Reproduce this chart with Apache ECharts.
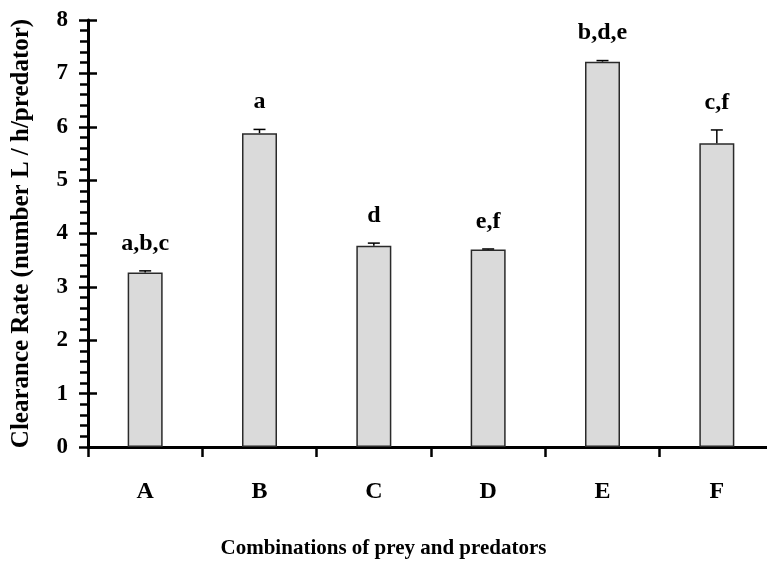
<!DOCTYPE html>
<html>
<head>
<meta charset="utf-8">
<script src="https://cdn.jsdelivr.net/npm/echarts@6/dist/echarts.min.js"></script>
<style>html,body{margin:0;padding:0;background:#fff}#c{width:767px;height:565px}</style>
</head>
<body>
<div id="c"></div>
<script>
var categories = ['A', 'B', 'C', 'D', 'E', 'F'];
var means = [3.27, 5.88, 3.77, 3.70, 7.22, 5.69];
var errors = [0.03, 0.07, 0.05, 0.01, 0.02, 0.25];
var letters = ['a,b,c', 'a', 'd', 'e,f', 'b,d,e', 'c,f'];
var yTicks = [0, 1, 2, 3, 4, 5, 6, 7, 8];

var FONT = '"Liberation Serif", "DejaVu Serif", serif';
var chart = echarts.init(document.getElementById('c'), null, {renderer: 'canvas'});

var tops = means.map(function (m, i) { return m + errors[i]; });

chart.setOption({
  animation: false,
  title: {
    text: 'Combinations of prey and predators',
    left: 'center',
    top: 538,
    padding: 0,
    textStyle: {fontFamily: FONT, fontWeight: 'bold', fontSize: 21, color: '#000'}
  },
  grid: {left: 88, top: 20, bottom: 118, right: -7, containLabel: false, outerBoundsMode: 'none'},
  xAxis: {
    type: 'category',
    data: categories,
    boundaryGap: true,
    axisLine: {lineStyle: {color: '#000', width: 3}},
    axisTick: {show: true, alignWithLabel: false, length: 10, lineStyle: {color: '#000', width: 2.5}},
    axisLabel: {fontFamily: FONT, fontWeight: 'bold', fontSize: 24, color: '#000', margin: 33},
    splitLine: {show: false}
  },
  yAxis: [{
    type: 'value',
    min: yTicks[0], max: yTicks[yTicks.length - 1], interval: 1,
    name: 'Clearance Rate (number L / h/predator)',
    nameLocation: 'middle',
    nameGap: 54,
    nameRotate: 90,
    nameTextStyle: {fontFamily: FONT, fontWeight: 'bold', fontSize: 25, color: '#000'},
    axisLine: {show: true, lineStyle: {color: '#000', width: 3}},
    axisTick: {show: true, length: 9, lineStyle: {color: '#000', width: 2.5}},
    minorTick: {show: true, splitNumber: 5, length: 8, lineStyle: {color: '#000', width: 2.5}},
    axisLabel: {fontFamily: FONT, fontWeight: 'bold', fontSize: 23, color: '#000', margin: 20},
    splitLine: {show: false}
  }, {
    type: 'value',
    position: 'left',
    offset: 0,
    min: yTicks[0], max: yTicks[yTicks.length - 1], interval: 1,
    axisLine: {show: false},
    axisTick: {show: true, inside: true, length: 9, lineStyle: {color: '#000', width: 2.5}},
    axisLabel: {show: false},
    splitLine: {show: false}
  }],
  series: [{
    type: 'bar',
    data: means,
    barWidth: 35,
    itemStyle: {color: '#dadada', borderColor: '#2a2a2a', borderWidth: 1.5},
    z: 2
  }, {
    type: 'custom',
    data: categories.map(function (c, i) { return [i, means[i], tops[i]]; }),
    renderItem: function (params, api) {
      var x = api.value(0);
      var p0 = api.coord([x, api.value(1)]);
      var p1 = api.coord([x, api.value(2)]);
      var hw = 6;
      return {
        type: 'group',
        children: [{
          type: 'line',
          shape: {x1: p0[0], y1: p0[1], x2: p1[0], y2: p1[1]},
          style: {stroke: '#000', lineWidth: 1.5}
        }, {
          type: 'line',
          shape: {x1: p1[0] - hw, y1: p1[1], x2: p1[0] + hw, y2: p1[1]},
          style: {stroke: '#000', lineWidth: 1.5}
        }]
      };
    },
    z: 3
  }, {
    type: 'scatter',
    data: tops,
    symbolSize: 1,
    itemStyle: {color: 'rgba(0,0,0,0)'},
    label: {
      show: true,
      position: 'top',
      distance: 15,
      formatter: function (p) { return letters[p.dataIndex]; },
      fontFamily: FONT, fontWeight: 'bold', fontSize: 24, color: '#000', opacity: 1
    },
    z: 4
  }]
});
</script>
</body>
</html>
